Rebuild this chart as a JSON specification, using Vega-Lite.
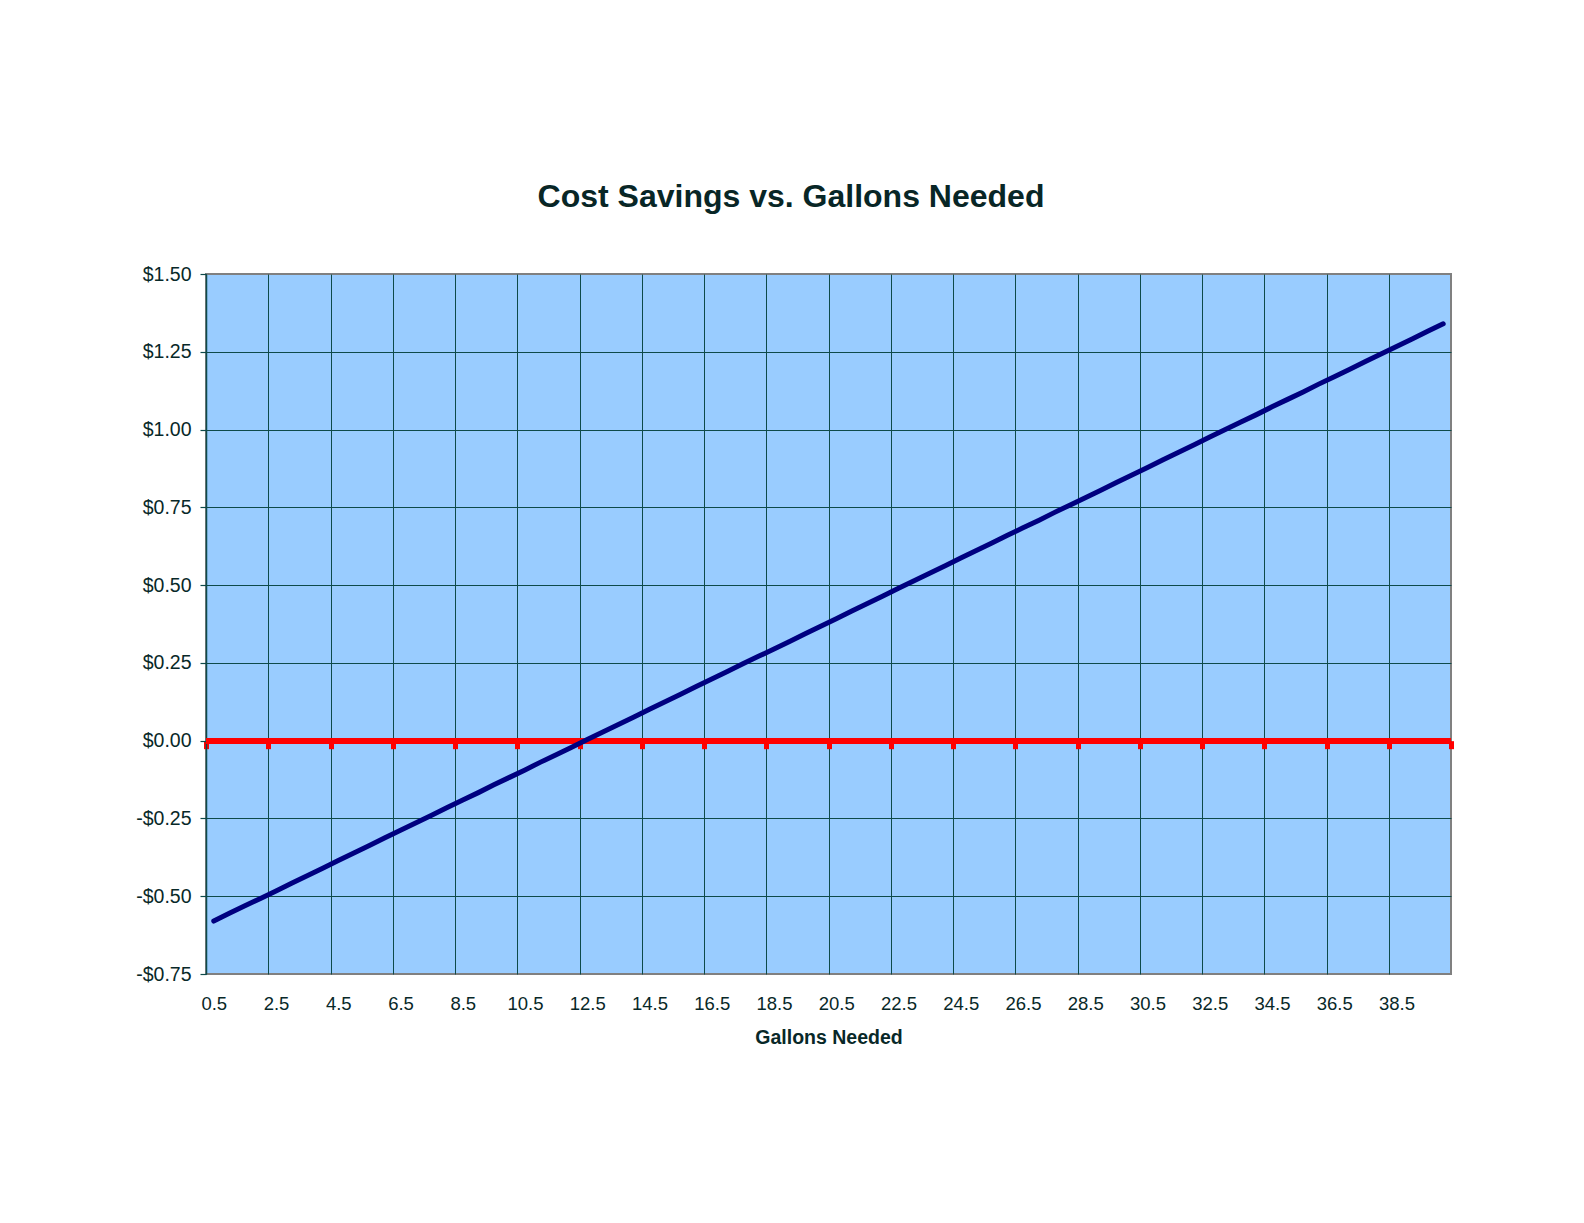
{
  "$schema": "https://vega.github.io/schema/vega-lite/v6.json",
  "autosize": {"type": "none"},
  "padding": {"left": 206, "top": 274, "right": 133, "bottom": 249},
  "width": 1245,
  "height": 700,
  "background": "#ffffff",
  "title": {
    "text": "Cost Savings vs. Gallons Needed",
    "font": "Liberation Sans",
    "fontSize": 32,
    "fontWeight": "bold",
    "color": "#082626",
    "anchor": "middle",
    "frame": "group",
    "dx": -37.5,
    "baseline": "alphabetic",
    "offset": 25
  },
  "data": {
    "values": [
      {"g": 0.5, "s": -0.580}, {"g": 1.0, "s": -0.555}, {"g": 1.5, "s": -0.531}, {"g": 2.0, "s": -0.507},
      {"g": 2.5, "s": -0.483}, {"g": 3.0, "s": -0.458}, {"g": 3.5, "s": -0.434}, {"g": 4.0, "s": -0.410},
      {"g": 4.5, "s": -0.385}, {"g": 5.0, "s": -0.361}, {"g": 5.5, "s": -0.337}, {"g": 6.0, "s": -0.312},
      {"g": 6.5, "s": -0.288}, {"g": 7.0, "s": -0.264}, {"g": 7.5, "s": -0.240}, {"g": 8.0, "s": -0.215},
      {"g": 8.5, "s": -0.191}, {"g": 9.0, "s": -0.167}, {"g": 9.5, "s": -0.142}, {"g": 10.0, "s": -0.118},
      {"g": 10.5, "s": -0.094}, {"g": 11.0, "s": -0.069}, {"g": 11.5, "s": -0.045}, {"g": 12.0, "s": -0.021},
      {"g": 12.5, "s": 0.004}, {"g": 13.0, "s": 0.028}, {"g": 13.5, "s": 0.052}, {"g": 14.0, "s": 0.076},
      {"g": 14.5, "s": 0.101}, {"g": 15.0, "s": 0.125}, {"g": 15.5, "s": 0.149}, {"g": 16.0, "s": 0.174},
      {"g": 16.5, "s": 0.198}, {"g": 17.0, "s": 0.222}, {"g": 17.5, "s": 0.247}, {"g": 18.0, "s": 0.271},
      {"g": 18.5, "s": 0.295}, {"g": 19.0, "s": 0.319}, {"g": 19.5, "s": 0.344}, {"g": 20.0, "s": 0.368},
      {"g": 20.5, "s": 0.392}, {"g": 21.0, "s": 0.417}, {"g": 21.5, "s": 0.441}, {"g": 22.0, "s": 0.465},
      {"g": 22.5, "s": 0.490}, {"g": 23.0, "s": 0.514}, {"g": 23.5, "s": 0.538}, {"g": 24.0, "s": 0.562},
      {"g": 24.5, "s": 0.587}, {"g": 25.0, "s": 0.611}, {"g": 25.5, "s": 0.635}, {"g": 26.0, "s": 0.660},
      {"g": 26.5, "s": 0.684}, {"g": 27.0, "s": 0.708}, {"g": 27.5, "s": 0.733}, {"g": 28.0, "s": 0.757},
      {"g": 28.5, "s": 0.781}, {"g": 29.0, "s": 0.805}, {"g": 29.5, "s": 0.830}, {"g": 30.0, "s": 0.854},
      {"g": 30.5, "s": 0.878}, {"g": 31.0, "s": 0.903}, {"g": 31.5, "s": 0.927}, {"g": 32.0, "s": 0.951},
      {"g": 32.5, "s": 0.976}, {"g": 33.0, "s": 1.000}, {"g": 33.5, "s": 1.024}, {"g": 34.0, "s": 1.048},
      {"g": 34.5, "s": 1.073}, {"g": 35.0, "s": 1.097}, {"g": 35.5, "s": 1.121}, {"g": 36.0, "s": 1.146},
      {"g": 36.5, "s": 1.170}, {"g": 37.0, "s": 1.194}, {"g": 37.5, "s": 1.219}, {"g": 38.0, "s": 1.243},
      {"g": 38.5, "s": 1.267}, {"g": 39.0, "s": 1.291}, {"g": 39.5, "s": 1.316}, {"g": 40.0, "s": 1.340}
    ]
  },
  "resolve": {"axis": {"x": "independent"}},
  "layer": [
    {
      "mark": {"type": "rule", "color": "#FF0000", "strokeWidth": 5},
      "encoding": {
        "x": {
          "datum": 0.25,
          "type": "quantitative",
          "axis": {
            "orient": "bottom",
            "offset": -233.33,
            "values": [0.25, 2.25, 4.25, 6.25, 8.25, 10.25, 12.25, 14.25, 16.25, 18.25, 20.25, 22.25, 24.25, 26.25, 28.25, 30.25, 32.25, 34.25, 36.25, 38.25, 40.25],
            "labels": false,
            "domain": false,
            "grid": false,
            "ticks": true,
            "tickColor": "#FF0000",
            "tickWidth": 5,
            "tickSize": 8,
            "title": null
          }
        },
        "x2": {"datum": 40.25},
        "y": {
          "datum": 0,
          "type": "quantitative",
          "axis": {
            "title": null,
            "values": [-0.75, -0.5, -0.25, 0, 0.25, 0.5, 0.75, 1, 1.25, 1.5],
            "labelExpr": "datum.value < 0 ? '-$' + format(-datum.value, '.2f') : '$' + format(datum.value, '.2f')",
            "grid": true,
            "gridColor": "#0e4a4a",
            "gridWidth": 1,
            "gridOpacity": {"condition": {"test": "datum.value >= 1.5 || datum.value <= -0.75", "value": 0}, "value": 1},
            "domain": true,
            "domainColor": "#0e4a4a",
            "domainWidth": 1.5,
            "ticks": true,
            "tickColor": "#0e4a4a",
            "tickSize": 6,
            "tickWidth": 1.2,
            "labelFont": "Liberation Sans",
            "labelFontSize": 19.5,
            "labelColor": "#082828",
            "labelPadding": 9,
            "labelFlush": false
          }
        }
      }
    },
    {
      "mark": {"type": "line", "color": "#000080", "strokeWidth": 5, "strokeCap": "round", "strokeJoin": "round"},
      "encoding": {
        "x": {
          "field": "g",
          "type": "quantitative",
          "scale": {"domain": [0.25, 40.25], "nice": false, "zero": false},
          "axis": {
            "orient": "bottom",
            "title": "Gallons Needed",
            "values": [0.25, 2.25, 4.25, 6.25, 8.25, 10.25, 12.25, 14.25, 16.25, 18.25, 20.25, 22.25, 24.25, 26.25, 28.25, 30.25, 32.25, 34.25, 36.25, 38.25],
            "labelExpr": "format(datum.value + 0.25, '.1f')",
            "labelOffset": 7.78,
            "labelFlush": false,
            "labelOverlap": false,
            "grid": true,
            "gridColor": "#0e4a4a",
            "gridWidth": 1,
            "ticks": false,
            "tickSize": 0,
            "domain": false,
            "labelFont": "Liberation Sans",
            "labelFontSize": 18.5,
            "labelColor": "#082828",
            "labelPadding": 20,
            "labelBaseline": "top",
            "titleFont": "Liberation Sans",
            "titleFontSize": 19.5,
            "titleFontWeight": "bold",
            "titleColor": "#082828",
            "titleBaseline": "alphabetic",
            "titleY": 69,
            "titleX": 622.5
          }
        },
        "y": {
          "field": "s",
          "type": "quantitative",
          "scale": {"domain": [-0.75, 1.5], "nice": false, "zero": false},
          "axis": {
            "title": null,
            "values": [-0.75, -0.5, -0.25, 0, 0.25, 0.5, 0.75, 1, 1.25, 1.5],
            "labelExpr": "datum.value < 0 ? '-$' + format(-datum.value, '.2f') : '$' + format(datum.value, '.2f')",
            "grid": true,
            "gridColor": "#0e4a4a",
            "gridWidth": 1,
            "gridOpacity": {"condition": {"test": "datum.value >= 1.5 || datum.value <= -0.75", "value": 0}, "value": 1},
            "domain": true,
            "domainColor": "#0e4a4a",
            "domainWidth": 1.5,
            "ticks": true,
            "tickColor": "#0e4a4a",
            "tickSize": 6,
            "tickWidth": 1.2,
            "labelFont": "Liberation Sans",
            "labelFontSize": 19.5,
            "labelColor": "#082828",
            "labelPadding": 9,
            "labelFlush": false
          }
        }
      }
    }
  ],
  "config": {
    "view": {"fill": "#99CCFF", "stroke": "#808080", "strokeWidth": 2}
  }
}
